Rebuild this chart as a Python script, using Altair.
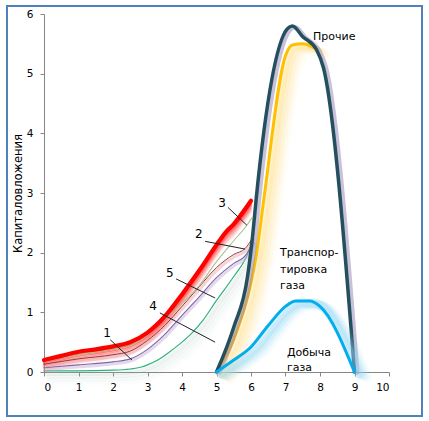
import altair as alt
import pandas as pd

# ---- curve data (x = year, y = capital investment) ----
red_x = [0, 0.5, 1, 1.5, 2, 2.5, 3, 3.5, 4, 4.5, 5, 5.25, 5.5, 6]
red_y = [0.2, 0.27, 0.34, 0.38, 0.43, 0.5, 0.66, 0.93, 1.3, 1.7, 2.13, 2.33, 2.48, 2.87]

olive_x = [0, 1, 2, 2.5, 3, 3.5, 4, 4.5, 5, 5.5, 5.88, 6.02]
olive_y = [0.17, 0.29, 0.38, 0.44, 0.62, 0.88, 1.15, 1.45, 1.85, 2.2, 2.46, 2.58]

pink_x = [0, 1, 2, 2.5, 3, 3.5, 4, 4.5, 5, 5.5, 5.83, 6.05]
pink_y = [0.13, 0.22, 0.29, 0.35, 0.53, 0.78, 1.1, 1.43, 1.75, 1.97, 2.07, 2.25]

purple_x = [0, 1, 2, 2.5, 3, 3.5, 4, 4.5, 5, 5.5, 5.85, 6.05]
purple_y = [0.07, 0.12, 0.17, 0.22, 0.38, 0.63, 0.95, 1.26, 1.58, 1.82, 1.96, 2.18]

green_x = [0, 1, 2, 2.5, 2.8, 3.0, 3.3, 3.6, 4.0, 4.3, 4.6, 5.0, 5.5, 5.9, 6.05]
green_y = [0.02, 0.02, 0.03, 0.05, 0.08, 0.12, 0.2, 0.32, 0.5, 0.66, 0.86, 1.2, 1.6, 1.97, 2.2]

total_x = [5, 5.5, 5.9, 6.05, 6.15, 7.05, 7.2, 7.5, 7.9, 8.1, 9]
total_y = [0, 0.75, 1.6, 2.3, 2.9, 5.75, 5.8, 5.62, 5.4, 5.1, 0]

transport_x = [5, 5.5, 6, 6.15, 6.35, 7.0, 7.2, 7.5, 7.8]
transport_y = [0, 0.55, 1.5, 1.95, 2.8, 5.3, 5.48, 5.5, 5.44]

production_x = [5, 5.5, 6, 6.5, 7, 7.3, 7.7, 8, 9]
production_y = [0, 0.2, 0.42, 0.78, 1.1, 1.19, 1.19, 1.1, 0]

# numbered callouts: label position and leader line
callout_text = ["1", "2", "3", "4", "5"]
callout_x = [1.83, 4.49, 5.16, 3.16, 3.65]
callout_y = [0.65, 2.31, 2.83, 1.10, 1.66]
leader_x1 = [1.92, 4.67, 5.33, 3.36, 3.83]
leader_y1 = [0.54, 2.19, 2.76, 0.99, 1.56]
leader_x2 = [2.55, 5.83, 5.88, 4.96, 4.96]
leader_y2 = [0.20, 2.06, 2.46, 0.50, 1.24]

# region labels
region_text = ["Прочие", "Транспор-", "тировка", "газа", "Добыча", "газа"]
region_x = [7.8, 6.84, 6.84, 6.84, 7.04, 7.04]
region_y = [5.61, 1.99, 1.71, 1.44, 0.32, 0.07]

FONT = "DejaVu Sans"

XS = alt.Scale(domain=[0, 10], nice=False)
YS = alt.Scale(domain=[0, 6], nice=False)
XA = alt.Axis(values=list(range(11)), title=None, grid=False,
              domainColor="#868686", tickColor="#868686", tickSize=4,
              labelColor="#000000", labelFont=FONT, labelFontSize=10.5,
              labelPadding=6)
YA = alt.Axis(values=list(range(7)), title="Капиталовложения", grid=False,
              domainColor="#868686", tickColor="#868686", tickSize=4,
              labelColor="#000000", labelFont=FONT, labelFontSize=10.5,
              labelPadding=7, titleFont=FONT, titleFontSize=11.5,
              titleFontWeight="normal", titleColor="#000000",
              titlePadding=3)
X = alt.X("x:Q", scale=XS, axis=XA)
Y = alt.Y("y:Q", scale=YS, axis=YA)


def frame(xs, ys):
    return pd.DataFrame({"x": xs, "y": ys})


def line(data, color, width, opacity=1.0, dx=0, dy=0):
    return alt.Chart(data).mark_line(
        interpolate="monotone", color=color, strokeWidth=width, opacity=opacity,
        strokeCap="round", strokeJoin="round", xOffset=dx, yOffset=dy
    ).encode(x=X, y=Y)


red = frame(red_x, red_y)
olive = frame(olive_x, olive_y)
pink = frame(pink_x, pink_y)
purple = frame(purple_x, purple_y)
green = frame(green_x, green_y)
total = frame(total_x, total_y)
transport = frame(transport_x, transport_y)
production = frame(production_x, production_y)

layers = []

# soft shadow under the green curve
for k, op in enumerate([0.16, 0.11, 0.07, 0.04]):
    layers.append(line(green, "#8fb8a8", 4, op, dx=2 + 2 * k, dy=3 + 3 * k))
layers.append(line(green, "#2eb27c", 1.2))

# faded red band below the main red curve
for k, op in enumerate([0.55, 0.42, 0.32, 0.24, 0.17, 0.11, 0.07]):
    layers.append(line(red, "#ff2020", 2.5, op, dy=2 + 1.6 * k))

layers.append(line(purple, "#c9b3d9", 3, 0.5, dx=1, dy=2))
layers.append(line(purple, "#7e63a8", 1.1))
layers.append(line(pink, "#e8a0a8", 3, 0.45, dx=1, dy=2))
layers.append(line(pink, "#9c3a3a", 1.0))
layers.append(line(olive, "#a9c48a", 1.1))
layers.append(line(red, "#ff0000", 4.2))

# pale glow to the lower right of the transport curve
for k, op in enumerate([0.4, 0.3, 0.2, 0.12, 0.06]):
    layers.append(line(transport, "#ffe08a", 7, op, dx=3 + 3 * k, dy=2 + 1.5 * k))
layers.append(line(transport, "#ffc000", 3))

# total curve with a lilac shadow
layers.append(line(total, "#9c8cbc", 4, 0.55, dx=3, dy=1))
layers.append(line(total, "#234f5e", 3.5))

# gas production curve with blue glow
for k, op in enumerate([0.3, 0.22, 0.14, 0.08]):
    layers.append(line(production, "#8fd6f4", 9, op, dx=4 + 3 * k, dy=2 + k))
layers.append(line(production, "#00aeef", 3))

# callout leaders and numbers
callouts = pd.DataFrame({
    "t": callout_text, "x": callout_x, "y": callout_y,
    "x1": leader_x1, "y1": leader_y1, "x2": leader_x2, "y2": leader_y2,
})
layers.append(alt.Chart(callouts).mark_rule(color="#222222", strokeWidth=1).encode(
    x=alt.X("x1:Q", scale=XS, axis=XA),
    y=alt.Y("y1:Q", scale=YS, axis=YA),
    x2="x2:Q", y2="y2:Q"))
layers.append(alt.Chart(callouts).mark_text(
    font=FONT, fontSize=12, color="#000000", align="center", baseline="middle"
).encode(x=X, y=Y, text="t:N"))

regions = pd.DataFrame({"t": region_text, "x": region_x, "y": region_y})
layers.append(alt.Chart(regions).mark_text(
    font=FONT, fontSize=11, color="#000000", align="left", baseline="middle"
).encode(x=X, y=Y, text="t:N"))

# blue outer frame around the whole figure
layers.append(alt.Chart(pd.DataFrame({"x": [0]})).mark_rect(
    fillOpacity=0, stroke="#4f81bd", strokeWidth=2
).encode(x=alt.value(-37), x2=alt.value(378), y=alt.value(-8), y2=alt.value(402)))

chart = alt.layer(*layers).properties(
    width=345, height=358,
    autosize=alt.AutoSizeParams(type="none"),
    padding={"left": 44, "top": 14, "right": 40, "bottom": 49},
    background="#ffffff",
).configure_view(stroke=None)

chart.save("out.html", embed_options={"renderer": "svg", "actions": False})
